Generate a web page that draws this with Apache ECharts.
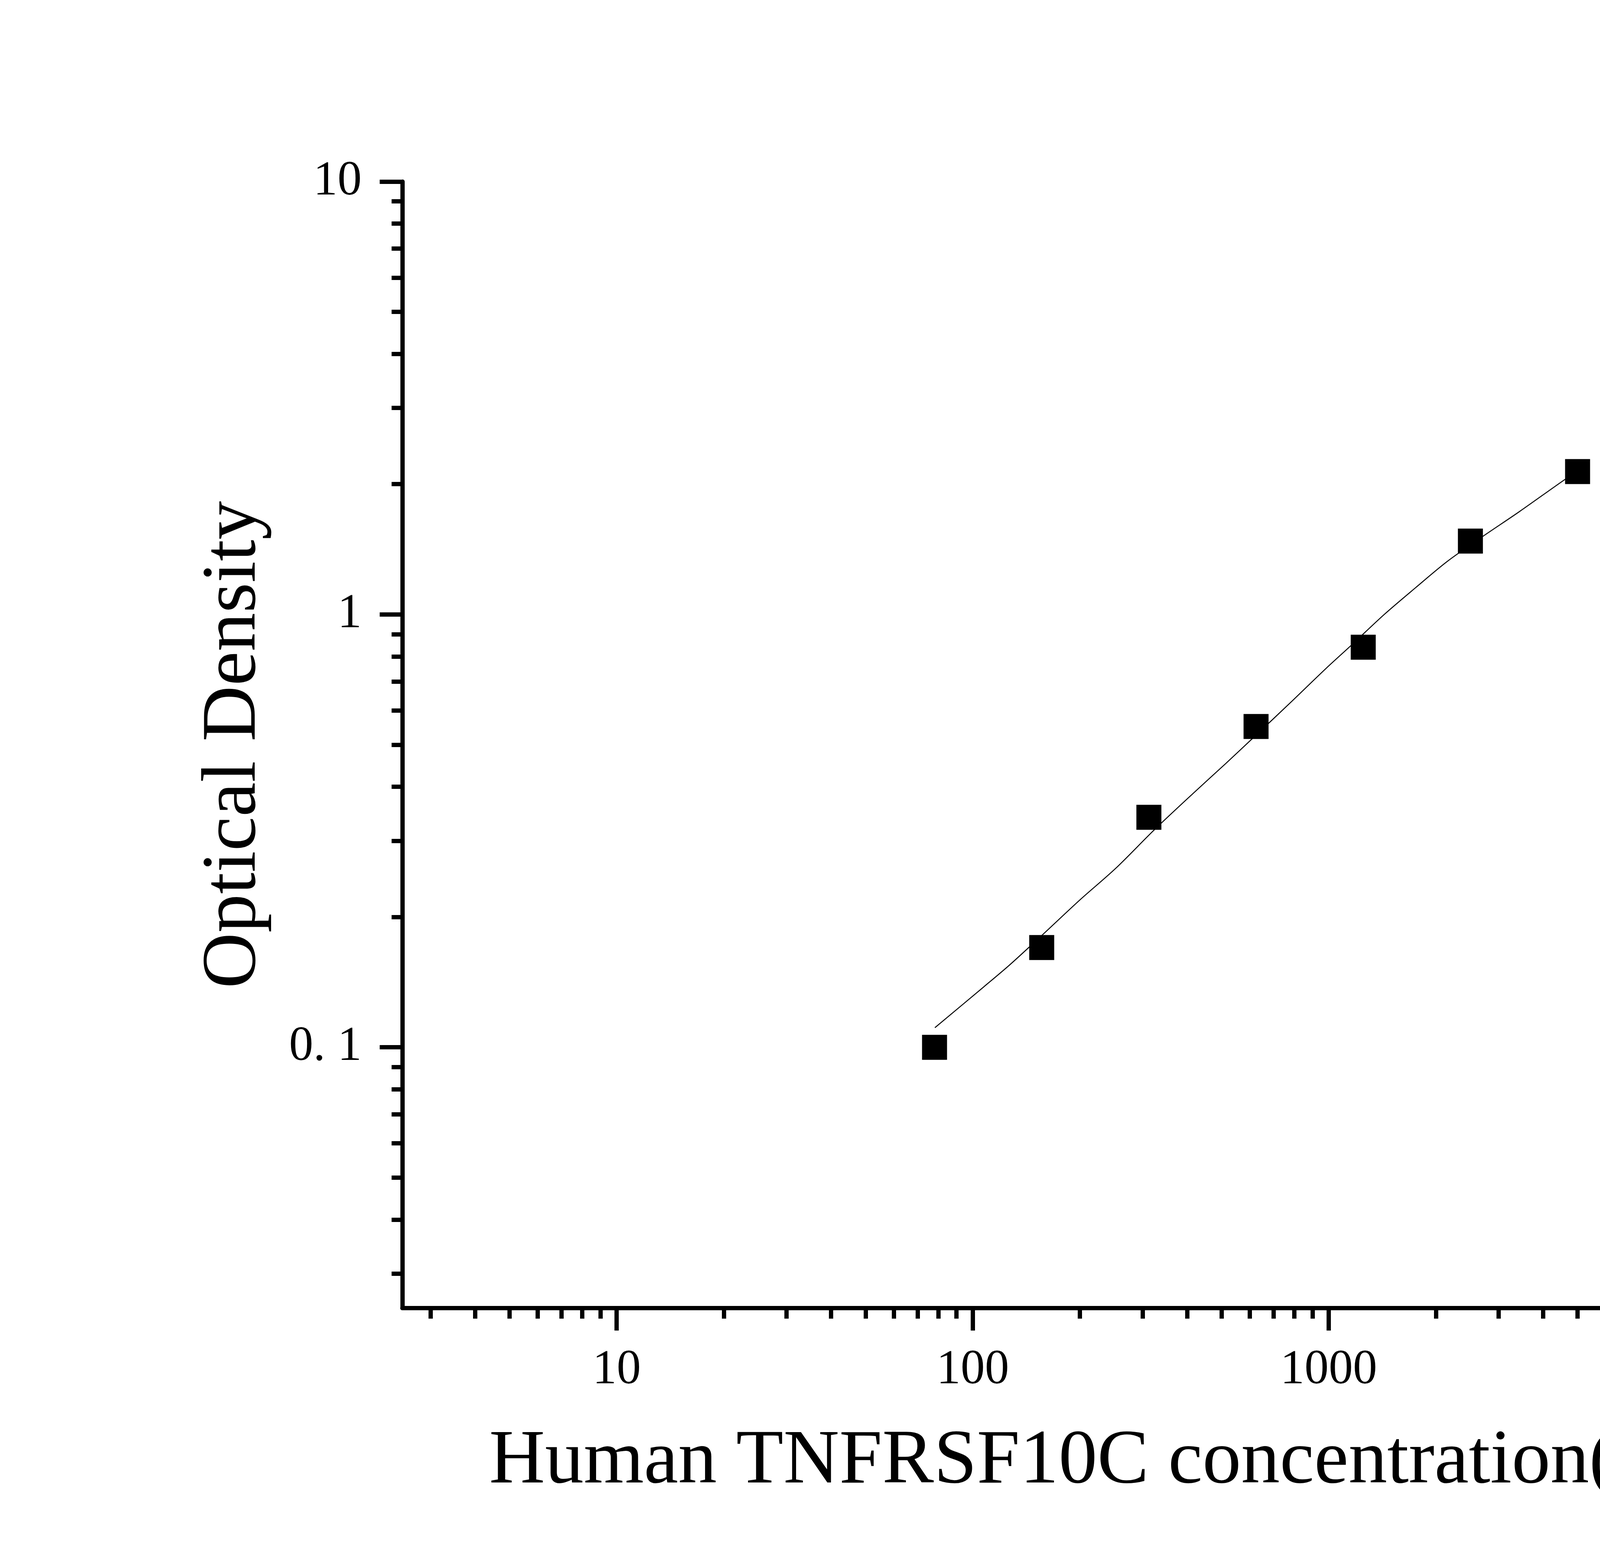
<!DOCTYPE html>
<html><head><meta charset="utf-8">
<script src="https://cdn.jsdelivr.net/npm/echarts@6/dist/echarts.min.js"></script>
<style>html,body{margin:0;padding:0;background:#fff}#c{width:5749px;height:4015px}</style>
</head><body><div id="c"></div>
<script>
// Standard points
const concentrations = [78.125, 156.25, 312.5, 625, 1250, 2500, 5000];
const opticalDensity = [0.100, 0.170, 0.340, 0.551, 0.840, 1.477, 2.138];
// Fitted curve
const curveX = [78.3, 107.5, 127, 156, 200, 252, 323.6, 414.6, 513, 623, 778, 982, 1152, 1432, 1756, 2153, 2716, 3425, 4645, 5000];
const curveY = [0.111, 0.138, 0.155, 0.181, 0.219, 0.259, 0.318, 0.385, 0.452, 0.525, 0.624, 0.750, 0.846, 1.0, 1.154, 1.326, 1.517, 1.726, 2.06, 2.14];
// Axis ticks
const xMajorTicks = [10, 100, 1000, 10000];
const xMinorTicks = [3, 4, 5, 6, 7, 8, 9, 20, 30, 40, 50, 60, 70, 80, 90, 200, 300, 400, 500, 600, 700, 800, 900,
  2000, 3000, 4000, 5000, 6000, 7000, 8000, 9000, 20000, 30000, 40000, 50000];
const yMajorTicks = [0.1, 1, 10];
const yMinorTicks = [0.03, 0.04, 0.05, 0.06, 0.07, 0.08, 0.09, 0.2, 0.3, 0.4, 0.5, 0.6, 0.7, 0.8, 0.9,
  2, 3, 4, 5, 6, 7, 8, 9];
const xTickLabels = ['10', '100', '1000', '10000'];
const yTickLabels = ['0. 1', '1', '10'];
const xTitle = 'Human TNFRSF10C concentration(pg/mL)';
const yTitle = 'Optical Density';

const FONT = 'Liberation Serif, Times New Roman, serif';
const X_MIN = 2.5, X_MAX = 50000, Y_MIN = 0.025, Y_MAX = 10;

function nearestLabel(v, ticks, labels) {
  let best = 0, bd = Infinity;
  ticks.forEach((t, i) => { const d = Math.abs(Math.log10(v) - Math.log10(t)); if (d < bd) { bd = d; best = i; } });
  return labels[best];
}

const chart = echarts.init(document.getElementById('c'), null, {width: 5749, height: 4015, renderer: 'canvas'});
const axisLineStyle = {color: '#000', width: 11};
chart.setOption({
  backgroundColor: '#fff',
  animation: false,
  grid: {left: 1030, right: 799, top: 465, bottom: 666, containLabel: false},
  xAxis: [{
    type: 'log', logBase: 10, min: X_MIN, max: X_MAX, position: 'bottom',
    axisLine: {show: true, lineStyle: axisLineStyle},
    axisTick: {show: true, customValues: xMajorTicks, length: 58, inside: false, lineStyle: {color: '#000', width: 11}},
    axisLabel: {show: true, customValues: xMajorTicks, margin: 98, color: '#000', fontFamily: FONT, fontSize: 124,
      formatter: v => nearestLabel(v, xMajorTicks, xTickLabels)},
    splitLine: {show: false}, minorTick: {show: false},
    name: xTitle, nameLocation: 'middle', nameGap: 296,
    nameTextStyle: {color: '#000', fontFamily: FONT, fontSize: 198}
  }, {
    type: 'log', logBase: 10, min: X_MIN, max: X_MAX, position: 'bottom', offset: 0,
    axisLine: {show: false},
    axisTick: {show: true, customValues: xMinorTicks, length: 27.5, inside: false, lineStyle: {color: '#000', width: 11}},
    axisLabel: {show: false}, splitLine: {show: false}
  }],
  yAxis: [{
    type: 'log', logBase: 10, min: Y_MIN, max: Y_MAX, position: 'left',
    axisLine: {show: true, lineStyle: axisLineStyle},
    axisTick: {show: true, customValues: yMajorTicks, length: 58, inside: false, lineStyle: {color: '#000', width: 11}},
    axisLabel: {show: true, customValues: yMajorTicks, margin: 104, color: '#000', fontFamily: FONT, fontSize: 124,
      formatter: v => nearestLabel(v, yMajorTicks, yTickLabels)},
    splitLine: {show: false}, minorTick: {show: false},
    name: yTitle, nameLocation: 'middle', nameGap: 331, nameRotate: 90,
    nameTextStyle: {color: '#000', fontFamily: FONT, fontSize: 198}
  }, {
    type: 'log', logBase: 10, min: Y_MIN, max: Y_MAX, position: 'left', offset: 0,
    axisLine: {show: false},
    axisTick: {show: true, customValues: yMinorTicks, length: 27.5, inside: false, lineStyle: {color: '#000', width: 11}},
    axisLabel: {show: false}, splitLine: {show: false}
  }],
  series: [{
    type: 'line', xAxisIndex: 0, yAxisIndex: 0,
    data: curveX.map((x, i) => [x, curveY[i]]),
    showSymbol: false, symbol: 'none', smooth: 0.3,
    lineStyle: {color: '#000', width: 2.5, opacity: 1}, z: 2
  }, {
    type: 'scatter', xAxisIndex: 0, yAxisIndex: 0,
    data: concentrations.map((x, i) => [x, opticalDensity[i]]),
    symbol: 'rect', symbolSize: 64,
    itemStyle: {color: '#000', opacity: 1}, z: 3
  }]
});
</script>
</body></html>
